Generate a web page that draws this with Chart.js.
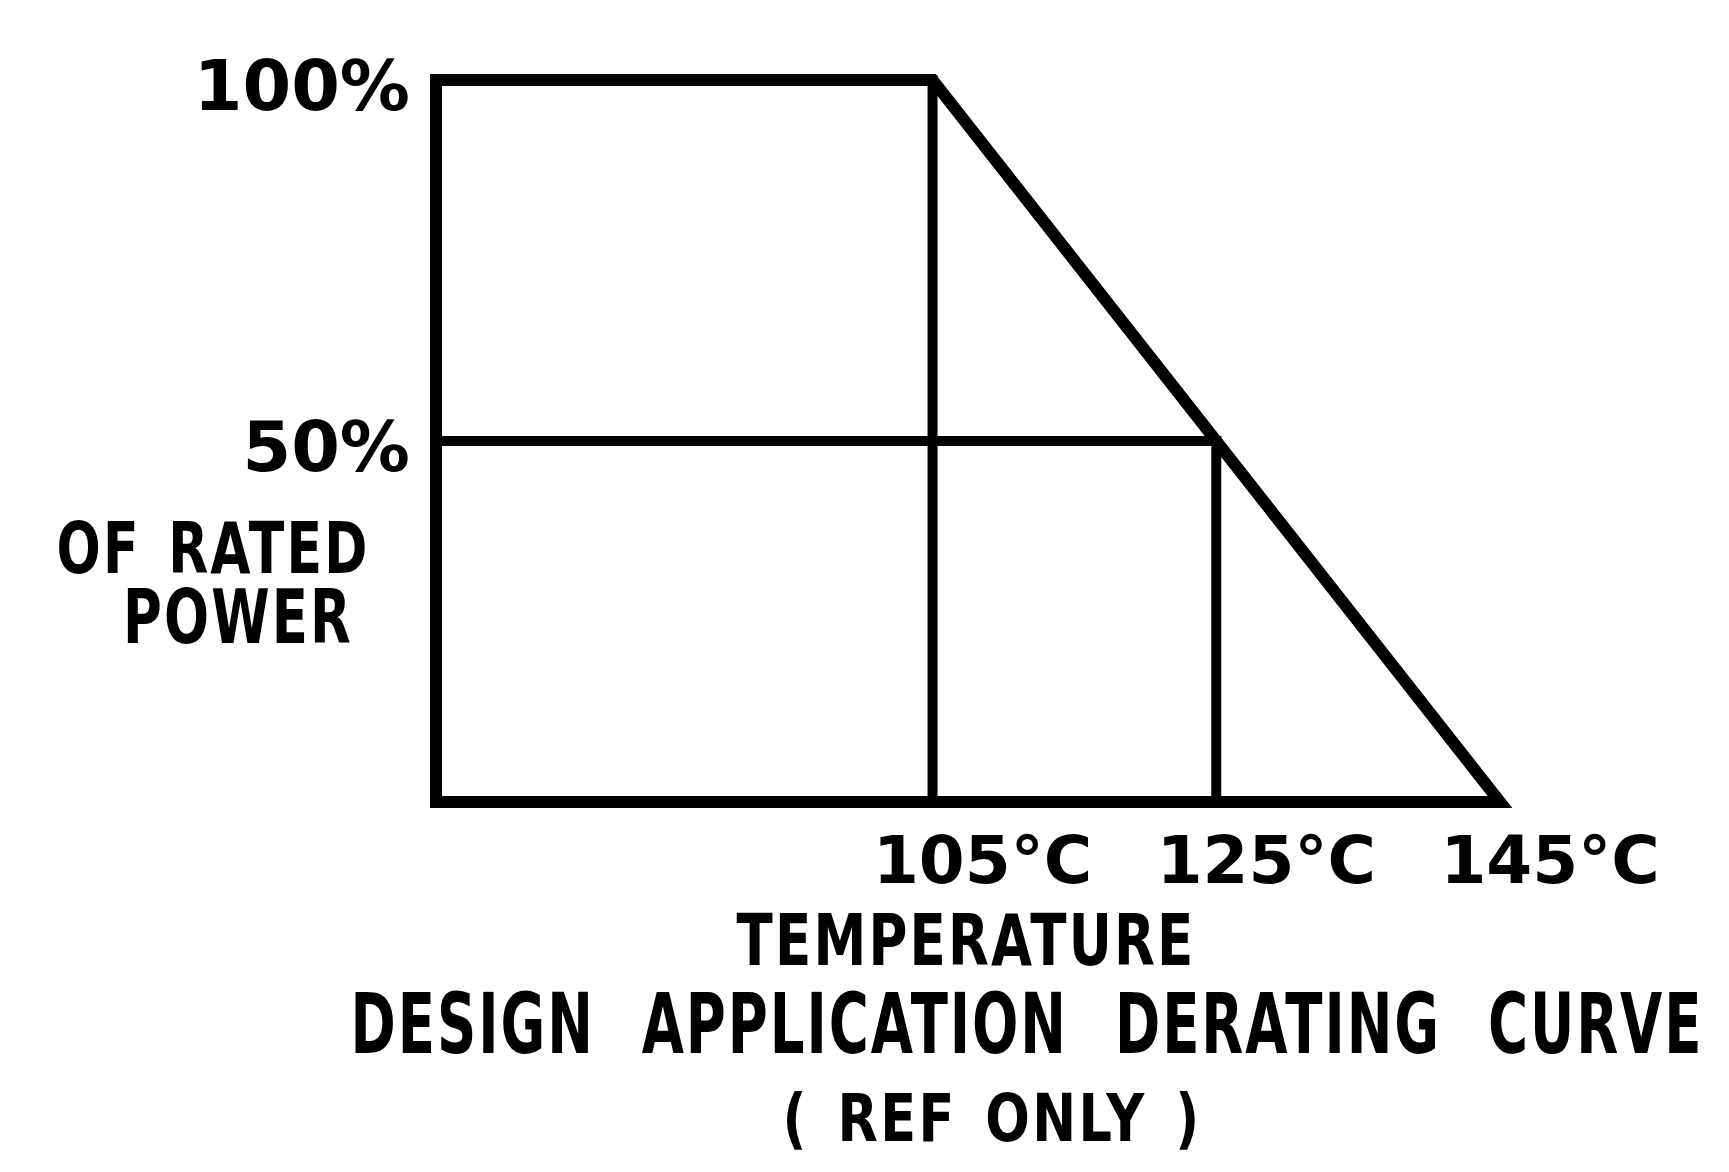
<!DOCTYPE html>
<html>
<head>
<meta charset="utf-8">
<script src="https://cdn.jsdelivr.net/npm/chart.js@4/dist/chart.umd.min.js"></script>
<style>
  html, body { margin: 0; padding: 0; background: #fff; }
  canvas { display: block; }
</style>
</head>
<body>
<canvas id="derating" width="1729" height="1172"></canvas>
<script>
// derating curve outline (temperature in C, power in % of rated)
const outlineTemp = [70, 70, 105, 145, 70];
const outlinePower = [0, 100, 100, 0, 0];
// helper lines inside the curve
const line105Temp = [105, 105];
const line105Power = [0, 100];
const halfTemp = [70, 125];
const halfPower = [50, 50];
const line125Temp = [125, 125];
const line125Power = [0, 50];

const xTickValues = [105, 125, 145];
const yTickValues = [50, 100];
const yAxisText = ["OF RATED", "POWER"];
const xAxisText = "TEMPERATURE";
const titleText = "DESIGN APPLICATION DERATING CURVE";
const subtitleText = "( REF ONLY )";

const FONT = "'DejaVu Sans', sans-serif";

function toPoints(xs, ys) {
    let pts = [];
    for (let i = 0; i < xs.length; i++) {
        pts.push({x: xs[i], y: ys[i]});
    }
    return pts;
}

function lineSet(xs, ys, width) {
    return {
        data: toPoints(xs, ys),
        borderColor: "#000",
        borderWidth: width,
        borderJoinStyle: "miter",
        borderCapStyle: "square",
        pointRadius: 0,
        tension: 0,
        fill: false,
        clip: false
    };
}

// hand lettered captions, squeezed with maxWidth to match the drawing
const captionPlugin = {
    id: "captions",
    afterDraw(chart) {
        const ctx = chart.ctx;
        ctx.save();
        ctx.fillStyle = "#000";
        ctx.textAlign = "center";
        ctx.textBaseline = "alphabetic";
        const items = [
            {text: yAxisText[0], x: 213, y: 573, size: 72, w: 313, ws: 10},
            {text: yAxisText[1], x: 238, y: 643, size: 74, w: 230, ws: 0},
            {text: xAxisText, x: 966, y: 965, size: 72, w: 459, ws: 0},
            {text: titleText, x: 1027, y: 1053, size: 84, w: 1353, ws: 40},
            {text: subtitleText, x: 992, y: 1141, size: 66, w: 419, ws: 10}
        ];
        for (let i = 0; i < items.length; i++) {
            let it = items[i];
            ctx.font = "bold " + it.size + "px " + FONT;
            ctx.wordSpacing = it.ws + "px";
            ctx.letterSpacing = "3px";
            ctx.fillText(it.text, it.x, it.y, it.w);
        }
        ctx.restore();
    }
};

new Chart(document.getElementById("derating"), {
    type: "line",
    data: {
        datasets: [
            lineSet(outlineTemp, outlinePower, 12),
            lineSet(line105Temp, line105Power, 10),
            lineSet(halfTemp, halfPower, 10),
            lineSet(line125Temp, line125Power, 10)
        ]
    },
    options: {
        responsive: false,
        animation: false,
        layout: {
            padding: {left: 0, right: 229, top: 80, bottom: 0}
        },
        plugins: {
            legend: {display: false},
            tooltip: {enabled: false},
            title: {display: false}
        },
        scales: {
            x: {
                type: "linear",
                min: 70,
                max: 145,
                grid: {display: false, drawTicks: false},
                border: {display: false},
                afterBuildTicks: function(scale) {
                    scale.ticks = xTickValues.map(v => ({value: v}));
                },
                afterFit: function(scale) {
                    scale.height = 370;
                    scale.paddingLeft = 0;
                    scale.paddingRight = 0;
                },
                ticks: {
                    autoSkip: false,
                    maxRotation: 0,
                    labelOffset: 50,
                    padding: 24,
                    color: "#000",
                    font: {family: FONT, size: 66, weight: "bold"},
                    callback: v => v + "°C"
                }
            },
            y: {
                type: "linear",
                min: 0,
                max: 100,
                grid: {display: false, drawTicks: false},
                border: {display: false},
                afterBuildTicks: function(scale) {
                    scale.ticks = yTickValues.map(v => ({value: v}));
                },
                afterFit: function(scale) {
                    scale.width = 436;
                    scale.paddingTop = 0;
                    scale.paddingBottom = 0;
                },
                ticks: {
                    padding: 26,
                    labelOffset: 12,
                    color: "#000",
                    font: {family: FONT, size: 70, weight: "bold"},
                    callback: v => v + "%"
                }
            }
        }
    },
    plugins: [captionPlugin]
});
</script>
</body>
</html>
